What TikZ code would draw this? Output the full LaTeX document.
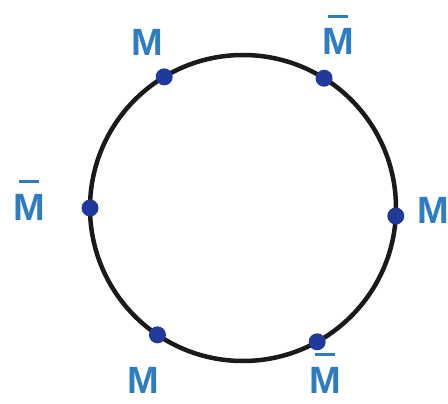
\documentclass[tikz,border=0pt]{standalone}
\usepackage{fontspec}
\setmainfont{Liberation Sans}
\usetikzlibrary{positioning}
\definecolor{dotblue}{HTML}{1F3A9A}
\definecolor{labblue}{HTML}{2E7DC2}
\definecolor{ringgray}{HTML}{1A1A1A}
\newcommand{\Mbar}{\leavevmode\vbox{\offinterlineskip\halign{\hfil##\hfil\cr\rule{0.55em}{0.09em}\cr\noalign{\kern0.28em}M\cr}}}

\begin{document}
\begin{tikzpicture}[x=1pt, y=-1pt,
  site/.style={circle, fill=dotblue, inner sep=0pt, minimum size=17pt},
  charge/.style={text=labblue, font=\fontsize{38}{44}\selectfont\bfseries, inner sep=0pt, anchor=base}]
  \useasboundingbox (0,0) rectangle (448,404);

  % Ring
  \coordinate (o) at (243,208);
  \draw[line width=4.5pt, ringgray] (o) circle[radius=153pt];

  % Sites and labels
  \foreach \a/\n/\lab/\lx/\ly in {
    121/a/M/147/56,
    58/b/\Mbar/338/55,
    -3/c/M/433/223,
    299/d/\Mbar/325/393,
    236/e/M/143/393,
    180/f/\Mbar/29/220
  } {
    \path (o) ++(\a:153pt) node[site] (s-\n) {};
    \node[charge] (l-\n) at (\lx,\ly) {\lab};
  }
\end{tikzpicture}
\end{document}
